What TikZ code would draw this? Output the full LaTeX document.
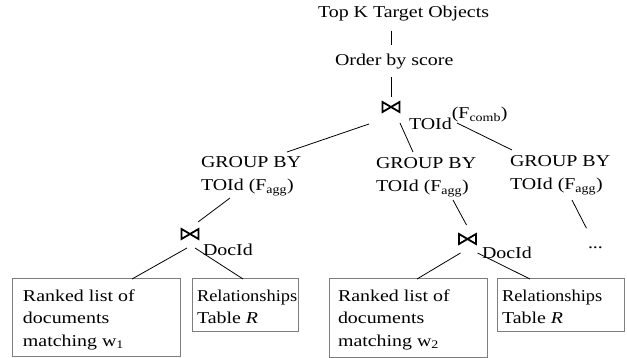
\documentclass[tikz,border=0pt]{standalone}
\usepackage{fontspec}
\setmainfont{Liberation Serif}[FakeStretch=1.2]
\newfontfamily\narrowrm{Liberation Serif}[FakeStretch=1.11]
\usetikzlibrary{calc}
\definecolor{boxgray}{RGB}{125,125,125}
\begin{document}
\begin{tikzpicture}[x=1pt,y=-1pt,font=\fontsize{16.6}{22.7}\selectfont]
\tikzset{
  txt/.style={inner sep=0pt, outer sep=0pt, anchor=base west, align=left},
  conn/.style={draw=black, line width=0.8pt},
  box/.style={draw=boxgray, line width=1pt, inner sep=0pt, outer sep=0pt, anchor=north west},
  joinnode/.style={inner sep=0pt, outer sep=0pt, minimum width=17pt, minimum height=10pt},
  bow/.style={line width=1.8pt, line join=miter},
}
\useasboundingbox (0,0) rectangle (627,358);

% texts (base anchor of a multi-line node = baseline of its last line)
\node[txt] (top) at (318,18) {Top K Target Objects};
\node[txt] (ord) at (335,66) {Order by score};
\node[joinnode] (j0) at (391,107) {};
\node[txt] (toid) at (409,130) {TOId\raisebox{11pt}{(F\textsubscript{comb})}};

\node[txt] (g1) at (201,190.7) {GROUP BY\\TOId (F\textsubscript{agg})};
\node[txt] (g2) at (376,191.7) {GROUP BY\\TOId (F\textsubscript{agg})};
\node[txt] (g3) at (510,189.7) {GROUP BY\\TOId (F\textsubscript{agg})};

\node[joinnode] (j1) at (190,234) {};
\node[txt] (d1) at (203,256) {DocId};
\node[joinnode] (j2) at (467.5,239) {};
\node[txt] (d2) at (482,259) {DocId};
\node[txt] (dots) at (588,249) {...};

% boxes
\node[box, minimum width=168pt, minimum height=77pt] (b1) at (12,279) {};
\node[box, minimum width=106pt, minimum height=53pt] (b2) at (192,279) {};
\node[box, minimum width=158pt, minimum height=78pt] (b3) at (329,279) {};
\node[box, minimum width=127pt, minimum height=53pt] (b4) at (497,279) {};
\node[txt] (t1) at (23,346.4) {Ranked list of\\documents\\matching w\textsubscript{1}};
\node[txt] (t2) at (197,323.7) {{\narrowrm Relationships}\\Table \textit{R}};
\node[txt] (t3) at (338,346.4) {Ranked list of\\documents\\matching w\textsubscript{2}};
\node[txt] (t4) at (502,323.7) {{\narrowrm Relationships}\\Table \textit{R}};

% bowties
\foreach \j in {j0,j1,j2}
  \draw[bow] (\j.south west) -- (\j.north east) -- (\j.south east) -- (\j.north west) -- cycle;

% connectors
\draw[conn, shorten <=9pt, shorten >=9.5pt] (top.south -| j0.center) -- (ord.north -| j0.center);
\draw[conn, shorten <=7.5pt, shorten >=4.5pt] (ord.south -| j0.center) -- (j0.north);
\draw[conn] ($(j0.center)+(-22,17)$) -- ($(g1.north west)+(86,-5)$);
\draw[conn] ($(j0.center)+(9,16)$) -- ($(g2.north west)+(37,-6)$);
\draw[conn] ($(j0.center)+(66,16)$) -- ($(g3.north west)+(2,-6)$);
\draw[conn] ($(g1.north west)+(29,41)$) -- ($(j1.center)+(8,-12)$);
\draw[conn] ($(j1.center)+(-3,14)$) -- ($(b1.north west)+(120,0)$);
\draw[conn] ($(j1.center)+(5,14)$) -- ($(b2.north west)+(51,0)$);
\draw[conn] ($(g2.north west)+(77,42)$) -- ($(j2.center)+(-1,-14)$);
\draw[conn] ($(j2.center)+(-7,14)$) -- ($(b3.north west)+(88,0)$);
\draw[conn] ($(j2.center)+(10,14)$) -- ($(b4.north west)+(33,0)$);
\draw[conn] ($(g3.north west)+(62,44)$) -- ($(dots.center)+(-9,-20)$);
\end{tikzpicture}
\end{document}
